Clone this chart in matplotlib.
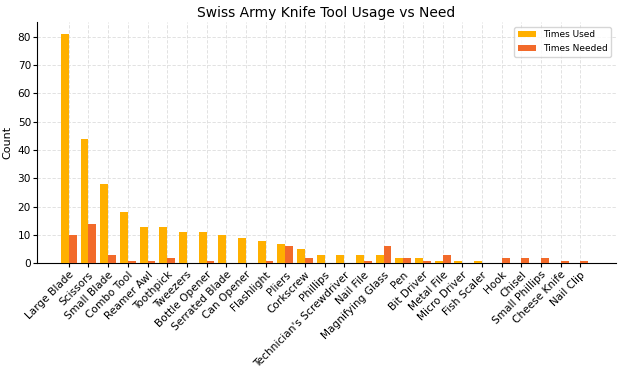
import numpy as np
import matplotlib
matplotlib.use("Agg")
import matplotlib.pyplot as plt

tools = ["Large Blade", "Scissors", "Small Blade", "Combo Tool", "Reamer Awl",
         "Toothpick", "Tweezers", "Bottle Opener", "Serrated Blade", "Can Opener",
         "Flashlight", "Pliers", "Corkscrew", "Phillips", "Technician's Screwdriver",
         "Nail File", "Magnifying Glass", "Pen", "Bit Driver", "Metal File",
         "Micro Driver", "Fish Scaler", "Hook", "Chisel", "Small Phillips",
         "Cheese Knife", "Nail Clip"]
times_used = [81, 44, 28, 18, 13, 13, 11, 11, 10, 9, 8, 7, 5, 3, 3,
              3, 3, 2, 2, 1, 1, 1, 0, 0, 0, 0, 0]
times_needed = [10, 14, 3, 1, 1, 2, 0, 1, 0, 0, 1, 6, 2, 0, 0,
                1, 6, 2, 1, 3, 0, 0, 2, 2, 2, 1, 1]

x = np.arange(len(tools))
w = 0.4

fig, ax = plt.subplots(figsize=(6.22, 3.71), dpi=100)
ax.bar(x - w / 2, times_used, w, color="#FFB000", label="Times Used", zorder=3)
ax.bar(x + w / 2, times_needed, w, color="#F26A2A", label="Times Needed", zorder=3)

ax.set_title("Swiss Army Knife Tool Usage vs Need", fontsize=10, pad=4)
ax.set_ylabel("Count", fontsize=8, labelpad=4)
ax.set_xticks(x)
ax.set_xticklabels(tools, rotation=45, ha="right", rotation_mode="anchor")
ax.tick_params(labelsize=7.6, length=3, pad=1.5)
ax.set_yticks(range(0, 81, 10))
ax.set_xlim(-1.6, len(tools) + 0.8)
ax.grid(True, color="#dddddd", linewidth=0.6, linestyle=(0, (4, 2)), zorder=0)
ax.spines["top"].set_visible(False)
ax.spines["right"].set_visible(False)
ax.legend(fontsize=6.5, loc="upper right")

fig.subplots_adjust(left=0.06, right=0.99, top=0.94, bottom=0.29)
fig.savefig("out.png", dpi=100)
